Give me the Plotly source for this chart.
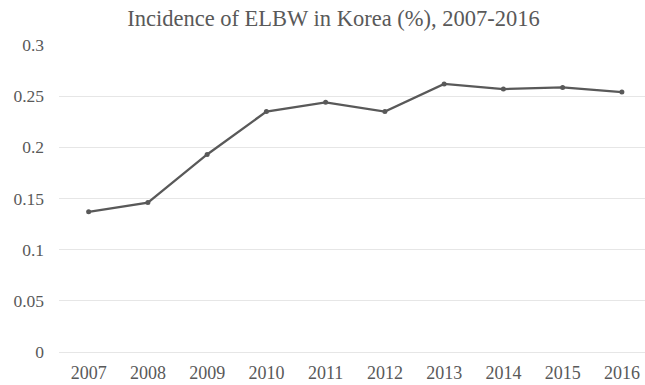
import plotly.graph_objects as go

years = [2007, 2008, 2009, 2010, 2011, 2012, 2013, 2014, 2015, 2016]
incidence = [0.137, 0.146, 0.193, 0.235, 0.244, 0.235, 0.262, 0.257, 0.2585, 0.254]
y_ticks = [0, 0.05, 0.1, 0.15, 0.2, 0.25, 0.3]
y_tick_labels = ["0", "0.05", "0.1", "0.15", "0.2", "0.25", "0.3"]

fig = go.Figure()
fig.add_trace(go.Scatter(
    x=years, y=incidence, mode="lines+markers",
    line=dict(color="#595959", width=2.25),
    marker=dict(color="#595959", size=5),
    hoverinfo="x+y", showlegend=False,
))

fig.update_layout(
    width=645, height=385,
    margin=dict(l=59, r=0, t=45, b=33),
    paper_bgcolor="white", plot_bgcolor="white",
    font=dict(family="Liberation Serif, Times New Roman, serif", color="#595959", size=18),
    title=dict(text="Incidence of ELBW in Korea (%), 2007-2016", x=0.517, xanchor="center",
               y=0.953, yanchor="middle", font=dict(size=22.5, color="#595959")),
    xaxis=dict(range=[2006.5, 2016.39], tickvals=years, ticktext=[str(y) for y in years],
               showgrid=False, zeroline=False, showline=False, ticks="",
               tickfont=dict(size=18, color="#595959"), ticklabelstandoff=8),
    yaxis=dict(range=[0, 0.3], tickvals=y_ticks, ticktext=y_tick_labels,
               showgrid=True, gridcolor="#e6e6e6", gridwidth=1,
               zeroline=True, zerolinecolor="#e6e6e6", zerolinewidth=1,
               showline=False, ticks="", ticklabelstandoff=14,
               tickfont=dict(size=17.5, color="#595959")),
)

fig.write_html("out.html")
